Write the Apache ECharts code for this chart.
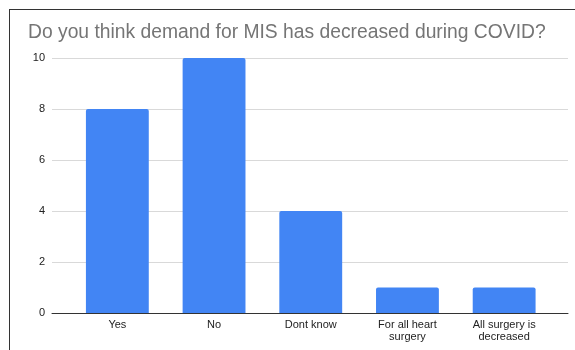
<!DOCTYPE html>
<html>
<head>
<meta charset="utf-8">
<script src="https://cdn.jsdelivr.net/npm/echarts@6/dist/echarts.min.js"></script>
<style>
  html, body { margin: 0; padding: 0; background: #fff; }
  #frame { position: absolute; left: 9px; top: 9px; width: 580px; height: 360px;
           border-top: 1px solid #333; border-left: 1px solid #333; }
  #chart { position: absolute; left: 0; top: 0; width: 575px; height: 350px; }
</style>
</head>
<body>
<div id="frame"></div>
<div id="chart"></div>
<script>
const chartTitle = 'Do you think demand for MIS has decreased during COVID?';
const categories = ['Yes', 'No', 'Dont know', 'For all heart\nsurgery', 'All surgery is\ndecreased'];
const responses = [8, 10, 4, 1, 1];
const valueTicks = { min: 0, max: 10, interval: 2 };

const chart = echarts.init(document.getElementById('chart'), null, { renderer: 'canvas' });
const font = 'Liberation Sans, Arial, sans-serif';

chart.setOption({
  backgroundColor: 'transparent',
  animation: false,
  title: {
    text: chartTitle,
    left: 23, top: 18,
    textStyle: { fontFamily: font, fontSize: 19.3, fontWeight: 'normal', color: '#757575' }
  },
  grid: [
    // wide grid: gridlines, baseline and value labels
    { left: 52, right: 7, top: 58, bottom: 37 },
    // bar grid: category bands
    { left: 69, right: 22.5, top: 58, bottom: 37 }
  ],
  xAxis: [
    { gridIndex: 0, type: 'category', data: [''], axisTick: { show: false },
      axisLabel: { show: false },
      axisLine: { show: true, lineStyle: { color: '#333', width: 1 } } },
    { gridIndex: 1, type: 'category', data: categories,
      axisTick: { show: false }, axisLine: { show: false },
      axisLabel: { fontFamily: font, fontSize: 11, color: '#222', margin: 6, lineHeight: 12, interval: 0 } }
  ],
  yAxis: [
    { gridIndex: 0, type: 'value', min: valueTicks.min, max: valueTicks.max, interval: valueTicks.interval,
      axisLine: { show: false }, axisTick: { show: false },
      axisLabel: { fontFamily: font, fontSize: 11, color: '#222', margin: 7 },
      splitLine: { lineStyle: { color: '#d9d9d9', width: 1 } } },
    { gridIndex: 1, type: 'value', min: valueTicks.min, max: valueTicks.max, interval: valueTicks.interval,
      show: false, splitLine: { show: false } }
  ],
  series: [{
    type: 'bar',
    xAxisIndex: 1, yAxisIndex: 1,
    data: responses,
    barWidth: '65%',
    itemStyle: { color: '#4285f4', borderRadius: [2, 2, 0, 0] }
  }]
});
</script>
</body>
</html>
